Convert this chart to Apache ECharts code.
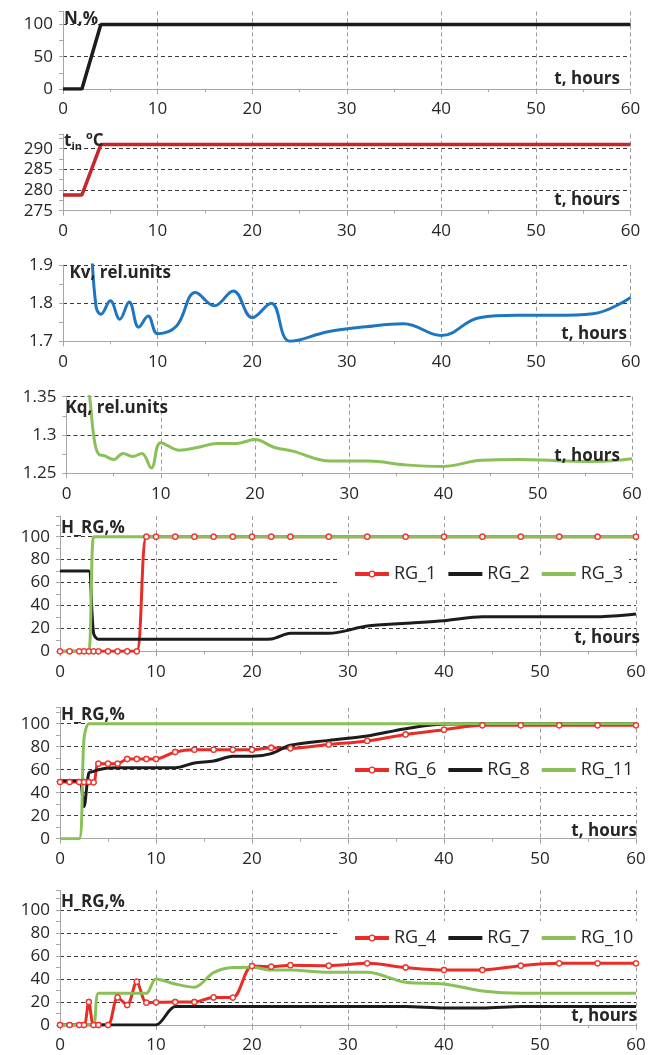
<!DOCTYPE html>
<html>
<head>
<meta charset="utf-8">
<script src="https://cdn.jsdelivr.net/npm/echarts@6/dist/echarts.min.js"></script>
<style>
  html, body { margin: 0; padding: 0; background: #fff; }
  #chart { width: 649px; height: 1055px; }
</style>
</head>
<body>
<div id="chart"></div>
<script>
// ---- time grid (hours) shared by the regulating-group, Kv and Kq curves ----
const hours = [0, 1, 2, 2.5, 3, 3.5, 4, 5, 6, 7, 8, 9, 10, 12, 14, 16, 18, 20, 22, 24, 28, 32, 36, 40, 44, 48, 52, 56, 60];

// ---- reactor power N, % ----
const hoursN = [0, 2, 2.5, 4, 60];
const powerN = [0, 0, 25, 100, 100];

// ---- inlet coolant temperature, deg C ----
const hoursTin = [0, 2, 4, 60];
const tempIn = [278.8, 278.8, 291, 291];

// ---- peaking factors, rel. units ----
const kv = [null, null, null, null, 1.96, 1.79, 1.771, 1.806, 1.758, 1.803, 1.737, 1.766, 1.72, 1.74, 1.828, 1.793, 1.832, 1.762, 1.800, 1.70, 1.725, 1.738, 1.746, 1.715, 1.762, 1.768, 1.768, 1.772, 1.815];
const kq = [null, null, 1.40, 1.345, 1.29, 1.274, 1.273, 1.268, 1.276, 1.272, 1.276, 1.257, 1.290, 1.280, 1.284, 1.289, 1.289, 1.294, 1.284, 1.279, 1.266, 1.266, 1.261, 1.259, 1.267, 1.268, 1.2665, 1.2655, 1.269];

// ---- control rod group positions H_RG, % ----
const rg1  = [0, 0, 0, 0, 0, 0, 0, 0, 0, 0, 0, 100, 100, 100, 100, 100, 100, 100, 100, 100, 100, 100, 100, 100, 100, 100, 100, 100, 100];
const rg2  = [70, 70, 70, 70, 70, 15.7, 10.5, 10.5, 10.5, 10.5, 10.5, 10.5, 10.5, 10.5, 10.5, 10.5, 10.5, 10.5, 10.8, 15.7, 15.7, 22, 24.4, 26.7, 30.2, 30.2, 30.2, 30.2, 32.6];
const rg3  = [0, 0, 0, 0, 0, 100, 100, 100, 100, 100, 100, 100, 100, 100, 100, 100, 100, 100, 100, 100, 100, 100, 100, 100, 100, 100, 100, 100, 100];
const rg6  = [49.3, 49.3, 49.3, 49.3, 49.3, 49, 65.2, 65.2, 65.2, 69.3, 69.3, 69.3, 69.3, 75.4, 77.4, 77.4, 77.4, 77.4, 79.1, 78.6, 82, 85, 90.7, 94.8, 98.6, 98.6, 98.6, 98.6, 98.6];
const rg8  = [50.5, 50.5, 50.5, 28, 57, 58.5, 60, 61.4, 61.7, 61.7, 61.7, 61.7, 61.7, 61.7, 65.8, 67.5, 71.6, 71.6, 74, 81.2, 85.5, 89.3, 95.7, 99.7, 100, 100, 100, 100, 100];
const rg11 = [0, 0, 0, 87, 100, 100, 100, 100, 100, 100, 100, 100, 100, 100, 100, 100, 100, 100, 100, 100, 100, 100, 100, 100, 100, 100, 100, 100, 100];
const rg4  = [0, 0, 0, 0, 20, 0, 0, 0, 24, 17.4, 37.7, 19.4, 19.7, 20, 20, 24, 23.8, 51.3, 50.7, 52, 51.6, 53.6, 50, 47.8, 47.8, 51.6, 53.6, 53.6, 53.6];
const rg7  = [0, 0, 0, 0, 0, 0, 0, 0, 0, 0, 0, 0, 0, 16, 16, 16, 16, 16, 16, 16, 16, 16, 16, 14.8, 14.8, 16, 16, 16, 16];
const rg10 = [0, 0, 0, 0, 0, 0, 27.5, 27.5, 27.5, 27.5, 27.5, 27.5, 40, 35.7, 32.8, 45.5, 49.9, 50.1, 47.8, 47.8, 45.8, 45.8, 37.1, 35.7, 29.6, 27.5, 27.5, 27.5, 27.5];

// ---- tick values ----
const xTicks = [0, 10, 20, 30, 40, 50, 60];
const yTicksN = [0, 50, 100];
const yTicksTin = [275, 280, 285, 290];
const yTicksKv = [1.7, 1.8, 1.9];
const yTicksKq = [1.25, 1.3, 1.35];
const yTicksRG = [0, 20, 40, 60, 80, 100];

const FONT = '"Open Sans", "DejaVu Sans", sans-serif';
const TXT = '#262626';
const AXIS = '#a6a6a6';
const BLACK = '#1c1c1c';
const RED = '#ea2c26';
const DARKRED = '#c8242c';
const BLUE = '#1f76c0';
const GREEN = '#89c057';

const pairs = (xs, ys) => xs.map((x, i) => [x, ys[i]]);

const panels = [
  { grid: { left: 63,   top: 11.5,  width: 567.5, height: 77.5 },  min: 0,    max: 120,   interval: 50,   ticks: yTicksN },
  { grid: { left: 63,   top: 134.2, width: 567.5, height: 76.5 },  min: 275,  max: 293.5, interval: 5,    ticks: yTicksTin },
  { grid: { left: 63,   top: 265,   width: 567.7, height: 76.3 },  min: 1.7,  max: 1.9,   interval: 0.1,  ticks: yTicksKv },
  { grid: { left: 66.5, top: 396.7, width: 565.5, height: 76.6 },  min: 1.25, max: 1.35,  interval: 0.05, ticks: yTicksKq },
  { grid: { left: 60,   top: 516.1, width: 576,   height: 135.2 }, min: 0,    max: 118,   interval: 20,   ticks: yTicksRG },
  { grid: { left: 60,   top: 707.6, width: 576,   height: 131.1 }, min: 0,    max: 114,   interval: 20,   ticks: yTicksRG },
  { grid: { left: 60,   top: 890.4, width: 576,   height: 134.6 }, min: 0,    max: 117,   interval: 20,   ticks: yTicksRG }
];

const tickLabel = (ticks) => (v) => {
  const k = ticks.findIndex(t => Math.abs(t - v) < 1e-6);
  return k < 0 ? '' : String(ticks[k]);
};

const grids = panels.map(p => p.grid);

const xAxes = panels.map((p, i) => ({
  type: 'value', gridIndex: i, min: 0, max: 60, interval: 10,
  axisLine: { show: true, onZero: false, lineStyle: { color: AXIS, width: 1 } },
  axisTick: { show: true, length: 5, lineStyle: { color: AXIS } },
  minorTick: { show: true, splitNumber: 2, length: 3, lineStyle: { color: AXIS } },
  splitLine: { show: true, showMinLine: false, lineStyle: { color: '#9a9a9a', type: [4, 3], width: 1 } },
  axisLabel: { margin: 12, color: TXT, fontSize: 17, fontFamily: FONT, formatter: tickLabel(xTicks) }
}));

const yAxes = panels.map((p, i) => {
  const topIsTick = p.ticks.some(t => Math.abs(t - p.max) < 1e-6);
  return {
    type: 'value', gridIndex: i, min: p.min, max: p.max, interval: p.interval,
    axisLine: { show: true, onZero: false, lineStyle: { color: AXIS, width: 1 } },
    axisTick: { show: true, length: 4, lineStyle: { color: AXIS } },
    minorTick: { show: true, splitNumber: 2, length: 4, lineStyle: { color: AXIS } },
    splitLine: { show: true, showMinLine: false, showMaxLine: topIsTick, lineStyle: { color: '#3a3a3a', type: [4, 3], width: 1 } },
    axisLabel: { margin: 10, color: TXT, fontSize: 17, fontFamily: FONT, showMaxLabel: topIsTick, formatter: tickLabel(p.ticks) }
  };
});

function plain(name, idx, xs, ys, color, width, smooth) {
  return {
    name, type: 'line', xAxisIndex: idx, yAxisIndex: idx,
    data: pairs(xs, ys), symbol: 'none', smooth: smooth || false,
    lineStyle: { color, width }, itemStyle: { color }, z: 2
  };
}

function marked(name, idx, ys) {
  return [
    {
      name, type: 'line', xAxisIndex: idx, yAxisIndex: idx, data: pairs(hours, ys),
      smooth: 0.3, symbol: 'circle', symbolSize: 5, showSymbol: true,
      lineStyle: { color: RED, width: 3 },
      itemStyle: { color: '#fff', borderColor: RED, borderWidth: 1.3 }, z: 2
    },
    {
      // marker overlay so the circles stay visible on top of other curves
      name, type: 'scatter', xAxisIndex: idx, yAxisIndex: idx, data: pairs(hours, ys),
      symbol: 'circle', symbolSize: 5, clip: false,
      itemStyle: { color: '#fff', borderColor: RED, borderWidth: 1.3 }, z: 5
    }
  ];
}

const series = [
  plain('N', 0, hoursN, powerN, BLACK, 3.5),
  plain('tin', 1, hoursTin, tempIn, DARKRED, 3.5),
  plain('Kv', 2, hours, kv, BLUE, 3, 0.4),
  plain('Kq', 3, hours, kq, GREEN, 3, 0.4),
  ...marked('RG_1', 4, rg1),
  plain('RG_2', 4, hours, rg2, BLACK, 3, 0.3),
  plain('RG_3', 4, hours, rg3, GREEN, 3, 0.3),
  ...marked('RG_6', 5, rg6),
  plain('RG_8', 5, hours, rg8, BLACK, 3, 0.3),
  plain('RG_11', 5, hours, rg11, GREEN, 3, 0.3),
  ...marked('RG_4', 6, rg4),
  plain('RG_7', 6, hours, rg7, BLACK, 3, 0.3),
  plain('RG_10', 6, hours, rg10, GREEN, 3, 0.3)
];

const BAR_ICON = 'path://M0,0H34V4H0Z';
function legend(top, names) {
  return {
    top, left: 337, orient: 'horizontal', selectedMode: false,
    backgroundColor: '#fff', padding: [8, 6, 8, 16],
    itemWidth: 34, itemHeight: 7, itemGap: 12,
    textStyle: { fontSize: 18, color: TXT, fontFamily: FONT },
    data: [
      { name: names[0], itemStyle: { color: '#fff', borderColor: RED, borderWidth: 1.3 }, lineStyle: { color: RED, width: 4 } },
      { name: names[1], icon: BAR_ICON, itemStyle: { color: BLACK } },
      { name: names[2], icon: BAR_ICON, itemStyle: { color: GREEN } }
    ]
  };
}

const boldFont = 'bold 17px ' + FONT;
function label(text, x, y, align) {
  return {
    type: 'text', x, y, z: 10, silent: true,
    style: { text, font: boldFont, fill: TXT, align: align || 'left', textAlign: align || 'left', verticalAlign: 'middle', textVerticalAlign: 'middle' }
  };
}

const graphics = [
  label('N,%', 64, 19),
  {
    type: 'text', x: 64, y: 141, z: 10, silent: true,
    style: {
      text: '{a|t}{s|in}{p|o}{a|C}', fill: TXT, align: 'left', verticalAlign: 'middle',
      rich: {
        a: { fontSize: 17, fontWeight: 'bold', fontFamily: FONT, fill: TXT, lineHeight: 22 },
        s: { fontSize: 11, fontWeight: 'bold', fontFamily: FONT, fill: TXT, lineHeight: 11, verticalAlign: 'bottom', padding: [0, 4, 0, 0] },
        p: { fontSize: 11, fontWeight: 'bold', fontFamily: FONT, fill: TXT, lineHeight: 11, verticalAlign: 'top' }
      }
    }
  },
  label('Kv, rel.units', 69.5, 273),
  label('Kq, rel.units', 65.5, 408),
  label('H_RG,%', 61, 528),
  label('H_RG,%', 61, 715),
  label('H_RG,%', 61, 902),
  label('t, hours', 620, 79, 'right'),
  label('t, hours', 620, 200, 'right'),
  label('t, hours', 627, 334, 'right'),
  label('t, hours', 620, 456, 'right'),
  label('t, hours', 640, 638, 'right'),
  label('t, hours', 637, 831, 'right'),
  label('t, hours', 637, 1016, 'right')
];

const chart = echarts.init(document.getElementById('chart'), null, { renderer: 'canvas', width: 649, height: 1055 });
chart.setOption({
  animation: false,
  backgroundColor: '#fff',
  grid: grids,
  xAxis: xAxes,
  yAxis: yAxes,
  legend: [
    legend(557, ['RG_1', 'RG_2', 'RG_3']),
    legend(753, ['RG_6', 'RG_8', 'RG_11']),
    legend(921, ['RG_4', 'RG_7', 'RG_10'])
  ],
  series,
  graphic: graphics
});
</script>
</body>
</html>
